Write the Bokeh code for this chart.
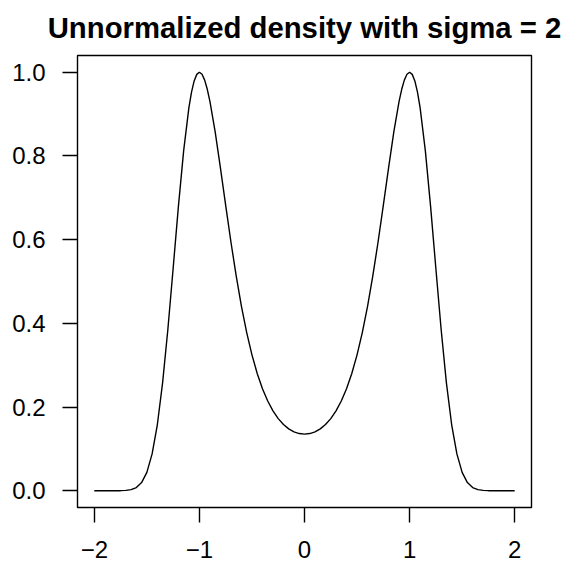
from bokeh.plotting import figure
from bokeh.models import Range1d, FixedTicker
from bokeh.embed import file_html
from bokeh.resources import INLINE

title_text = "Unnormalized density with sigma = 2"

x_vals = [-2.0, -1.95, -1.9, -1.85, -1.8, -1.75, -1.7, -1.65, -1.6, -1.55,
          -1.5, -1.45, -1.4, -1.35, -1.3, -1.25, -1.2, -1.15, -1.1, -1.075,
          -1.05, -1.025, -1.0, -0.975, -0.95, -0.925, -0.9, -0.85, -0.8, -0.75,
          -0.7, -0.65, -0.6, -0.55, -0.5, -0.45, -0.4, -0.35, -0.3, -0.25,
          -0.2, -0.15, -0.1, -0.05, 0.0,
          0.05, 0.1, 0.15, 0.2, 0.25, 0.3, 0.35, 0.4, 0.45, 0.5,
          0.55, 0.6, 0.65, 0.7, 0.75, 0.8, 0.85, 0.9, 0.925, 0.95,
          0.975, 1.0, 1.025, 1.05, 1.075, 1.1, 1.15, 1.2, 1.25, 1.3,
          1.35, 1.4, 1.45, 1.5, 1.55, 1.6, 1.65, 1.7, 1.75, 1.8,
          1.85, 1.9, 1.95, 2.0]

y_vals = [0.0, 0.0, 0.0, 0.0, 0.0, 0.0002, 0.0008, 0.0027, 0.0077, 0.0196,
          0.0439, 0.0880, 0.1583, 0.2585, 0.3859, 0.5311, 0.6790, 0.8122, 0.9156, 0.9527,
          0.9792, 0.9949, 1.0, 0.9951, 0.9812, 0.9592, 0.9303, 0.8573, 0.7717, 0.6819,
          0.5944, 0.5132, 0.4408, 0.3780, 0.3247, 0.2803, 0.2439, 0.2144, 0.1909, 0.1724,
          0.1583, 0.1479, 0.1408, 0.1367, 0.1353,
          0.1367, 0.1408, 0.1479, 0.1583, 0.1724, 0.1909, 0.2144, 0.2439, 0.2803, 0.3247,
          0.3780, 0.4408, 0.5132, 0.5944, 0.6819, 0.7717, 0.8573, 0.9303, 0.9592, 0.9812,
          0.9951, 1.0, 0.9949, 0.9792, 0.9527, 0.9156, 0.8122, 0.6790, 0.5311, 0.3859,
          0.2585, 0.1583, 0.0880, 0.0439, 0.0196, 0.0077, 0.0027, 0.0008, 0.0002, 0.0,
          0.0, 0.0, 0.0, 0.0]

x_ticks = [-2, -1, 0, 1, 2]
x_tick_labels = ["\u22122", "\u22121", "0", "1", "2"]
y_ticks = [0.0, 0.2, 0.4, 0.6, 0.8, 1.0]
y_tick_labels = ["0.0", "0.2", "0.4", "0.6", "0.8", "1.0"]

FONT = "Liberation Sans"

p = figure(width=564, height=562, output_backend="svg", toolbar_location=None,
           x_range=Range1d(-2.16, 2.16), y_range=Range1d(-0.04, 1.04),
           min_border_left=77, min_border_right=33, min_border_top=53,
           min_border_bottom=55, title=title_text)

p.title.text_font = FONT
p.title.text_font_size = "29.3px"
p.title.text_font_style = "bold"
p.title.align = "center"
p.title.text_color = "black"
p.title.vertical_align = "top"
p.title.standoff = 20

p.line(x_vals, y_vals, line_color="black", line_width=1.4)

p.xgrid.visible = False
p.ygrid.visible = False
p.outline_line_color = "black"
p.outline_line_width = 1.4
p.background_fill_color = "white"
p.border_fill_color = "white"

for ax, ticks, labels in ((p.xaxis[0], x_ticks, x_tick_labels), (p.yaxis[0], y_ticks, y_tick_labels)):
    ax.ticker = FixedTicker(ticks=ticks)
    ax.major_label_overrides = {t: l for t, l in zip(ticks, labels)}
    ax.axis_line_color = None
    ax.major_tick_line_color = "black"
    ax.major_tick_line_width = 1.4
    ax.major_tick_out = 15
    ax.major_tick_in = 0
    ax.minor_tick_line_color = None
    ax.major_label_text_font = FONT
    ax.major_label_text_font_size = "24px"
    ax.major_label_text_color = "black"

p.xaxis.major_label_standoff = 18
p.yaxis.major_label_standoff = 17

open("out.html", "w").write(file_html(p, INLINE))
